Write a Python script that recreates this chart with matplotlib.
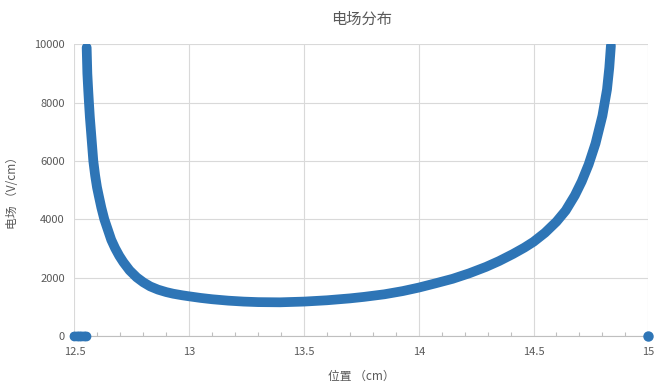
import matplotlib
matplotlib.use("Agg")
import matplotlib.pyplot as plt
from matplotlib.ticker import MultipleLocator

plt.rcParams['font.family'] = ['Noto Sans CJK SC', 'DejaVu Sans']

# Field strength along the gap (position in cm, field in V/cm)
position = [12.553, 12.556, 12.560, 12.563, 12.567, 12.572, 12.577, 12.582,
            12.590, 12.598, 12.606, 12.617, 12.630, 12.645, 12.660, 12.677,
            12.695, 12.713, 12.740, 12.771, 12.80, 12.83, 12.864, 12.90,
            12.93, 12.97, 13.0, 13.05, 13.1, 13.17, 13.237, 13.3, 13.395,
            13.5, 13.6, 13.7, 13.76, 13.85, 13.93, 14.0, 14.07, 14.147,
            14.22, 14.293, 14.35, 14.41, 14.46, 14.5, 14.55, 14.60, 14.64,
            14.68, 14.71, 14.74, 14.77, 14.80, 14.82, 14.83, 14.837]
field = [9890, 9000, 8400, 8000, 7500, 7000, 6500, 6000,
         5500, 5100, 4800, 4400, 4000, 3650, 3300, 3010,
         2750, 2530, 2250, 2010, 1840, 1700, 1590, 1505,
         1450, 1395, 1360, 1305, 1260, 1212, 1180, 1162, 1155,
         1180, 1225, 1290, 1340, 1430, 1540, 1660, 1800, 1960,
         2150, 2370, 2570, 2810, 3030, 3230, 3540, 3920, 4300,
         4820, 5300, 5880, 6600, 7550, 8450, 9200, 9955]

# Points outside the gap where the field is zero
zero_left_x = [12.50, 12.51, 12.52, 12.53, 12.54, 12.55]
zero_left_y = [0, 0, 0, 0, 0, 0]
zero_right_x = [15.0]
zero_right_y = [0]

x_ticks = [12.5, 13, 13.5, 14, 14.5, 15]
x_tick_labels = ['12.5', '13', '13.5', '14', '14.5', '15']
y_ticks = [0, 2000, 4000, 6000, 8000, 10000]

blue = '#2E75B6'
grid_c = '#D9D9D9'
text_c = '#595959'

fig = plt.figure(figsize=(6.54, 3.88), dpi=100)
ax = fig.add_axes([0.1139, 0.134, 0.8774, 0.7518])

ax.plot(position, field, color=blue, lw=7, solid_capstyle='round',
        solid_joinstyle='round', zorder=3)
ax.plot(zero_left_x, zero_left_y, color=blue, lw=6, marker='o', ms=6,
        solid_capstyle='round', clip_on=False, zorder=3)
ax.plot(zero_right_x, zero_right_y, color=blue, lw=0, marker='o', ms=6.5,
        clip_on=False, zorder=3)

ax.set_xlim(12.5, 15)
ax.set_ylim(0, 10000)
ax.set_xticks(x_ticks)
ax.set_xticklabels(x_tick_labels)
ax.set_yticks(y_ticks)
ax.xaxis.set_minor_locator(MultipleLocator(0.1))

ax.grid(True, which='major', color=grid_c, lw=0.8, zorder=0)
for s in ['top', 'right', 'left']:
    ax.spines[s].set_visible(False)
ax.spines['bottom'].set_color('#BFBFBF')
ax.spines['bottom'].set_linewidth(0.8)

ax.tick_params(axis='both', which='major', length=0, labelsize=8,
               labelcolor=text_c)
ax.tick_params(axis='x', which='major', pad=8)
ax.tick_params(axis='y', which='major', pad=7)
ax.tick_params(axis='x', which='minor', direction='in', length=3,
               color='#BFBFBF', width=0.8)

ax.set_title('电场分布', fontsize=11, color=text_c, pad=15)
ax.set_xlabel('位置 （cm）', fontsize=8.5, color=text_c, labelpad=9)
ax.set_ylabel('电场 （V/cm）', fontsize=8.5, color=text_c, labelpad=11)

fig.savefig('out.png', dpi=100, facecolor='white')
